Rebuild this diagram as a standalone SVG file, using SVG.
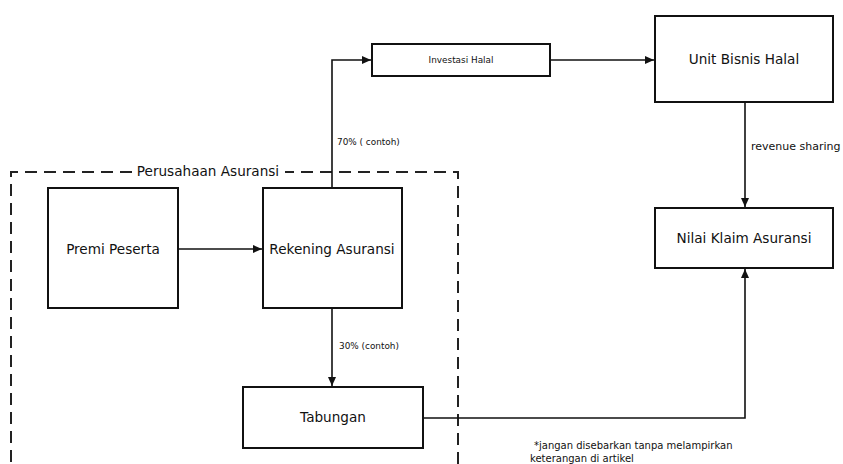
<svg xmlns="http://www.w3.org/2000/svg" width="843" height="464" viewBox="0 0 843 464">
<style>
.box{fill:#fff;stroke:#111;stroke-width:2}
.t{font-family:"DejaVu Sans",Verdana,sans-serif;font-size:13.6px;fill:#111;text-anchor:middle}
.s{font-family:"DejaVu Sans",Verdana,sans-serif;font-size:8.9px;fill:#111}
.m{font-family:"DejaVu Sans",Verdana,sans-serif;font-size:10px;fill:#111}
.c{fill:none;stroke:#111;stroke-width:1.6}
</style>
<defs>
<marker id="ah" markerWidth="10" markerHeight="10" refX="9" refY="5" orient="auto" markerUnits="userSpaceOnUse">
<path d="M0,1 L9,5 L0,9 Z" fill="#111"/>
</marker>
</defs>
<rect width="843" height="464" fill="#fff"/>
<g id="perusahaan">
<path d="M132,172 H11 V464 M458,464 V172 H285" fill="none" stroke="#222" stroke-width="2" stroke-dasharray="12,7"/>
<text x="208" y="176" class="t">Perusahaan Asuransi</text>
</g>
<g id="connectors">
<path class="c" d="M332,188 V60 H371" marker-end="url(#ah)"/>
<path class="c" d="M550,60 H654" marker-end="url(#ah)"/>
<path class="c" d="M745,102 V207" marker-end="url(#ah)"/>
<path class="c" d="M178,249 H262" marker-end="url(#ah)"/>
<path class="c" d="M332,308 V386" marker-end="url(#ah)"/>
<path class="c" d="M423,418 H745 V269" marker-end="url(#ah)"/>
<text x="337" y="145" class="s">70% ( contoh)</text>
<text x="339" y="349" class="s">30% (contoh)</text>
<text x="751" y="150" class="m" style="font-size:11px">revenue sharing</text>
</g>
<g id="premi"><rect class="box" x="48" y="188" width="130" height="120"/><text x="113" y="254" class="t">Premi Peserta</text></g>
<g id="rekening"><rect class="box" x="263" y="188" width="139" height="120"/><text x="332" y="254" class="t">Rekening Asuransi</text></g>
<g id="tabungan"><rect class="box" x="243" y="387" width="180" height="61"/><text x="333" y="422" class="t">Tabungan</text></g>
<g id="investasi"><rect class="box" x="372" y="44" width="178" height="32"/><text x="461" y="63" class="s" text-anchor="middle">Investasi Halal</text></g>
<g id="unit"><rect class="box" x="655" y="16" width="178" height="86"/><text x="744" y="64" class="t">Unit Bisnis Halal</text></g>
<g id="nilai"><rect class="box" x="655" y="208" width="178" height="60"/><text x="744" y="243" class="t">Nilai Klaim Asuransi</text></g>
<g id="footnote">
<text x="534" y="449" class="m">*jangan disebarkan tanpa melampirkan</text>
<text x="530" y="462" class="m">keterangan di artikel</text>
</g>
</svg>
